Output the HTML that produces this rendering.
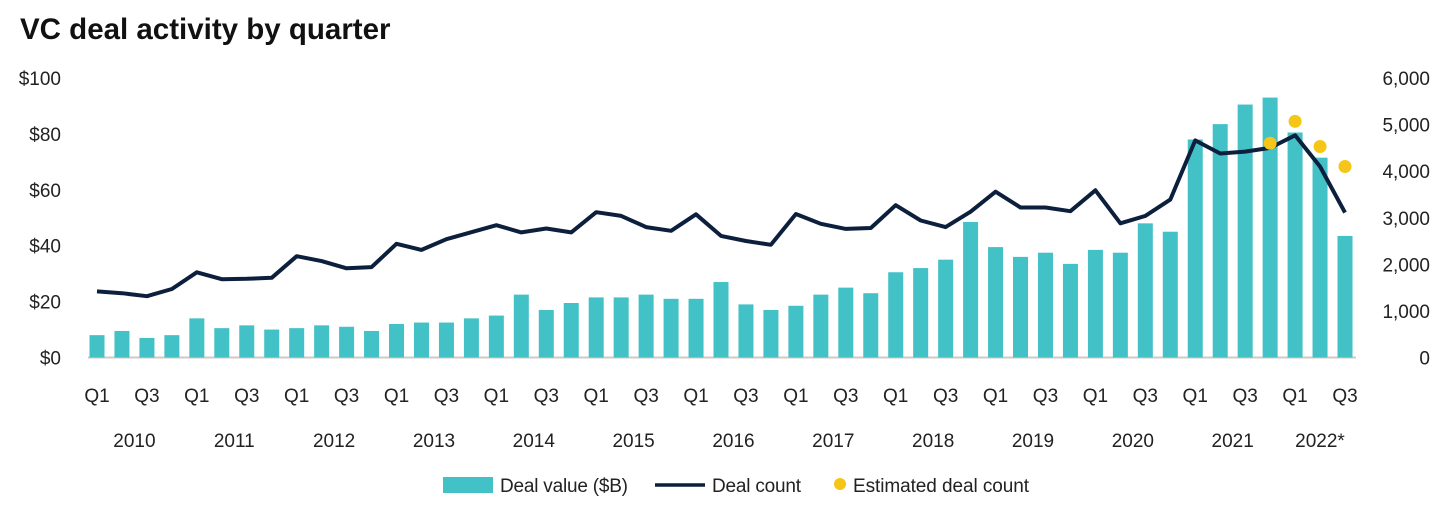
<!DOCTYPE html>
<html><head><meta charset="utf-8"><style>
body{margin:0;background:#fff;width:1452px;height:506px;overflow:hidden}
svg{display:block;font-family:"Liberation Sans",sans-serif}
</style></head><body>
<svg id="chart" width="1452" height="506">
<text x="20" y="39" font-family="Liberation Sans, sans-serif" font-weight="bold" font-size="29.5" fill="#111">VC deal activity by quarter</text>
<g id="axes"></g><g id="bars"></g><g id="lines"></g><g id="dots"></g>
<g>
<rect x="443" y="477" width="50" height="16" fill="#42c1c7"/>
<text x="500" y="492" font-size="19" fill="#222" textLength="128">Deal value ($B)</text>
<line x1="655" y1="485" x2="705" y2="485" stroke="#0c1f3d" stroke-width="3.5"/>
<text x="712" y="492" font-size="19" fill="#222" textLength="89">Deal count</text>
<circle cx="840" cy="484" r="6" fill="#f5c518"/>
<text x="853" y="492" font-size="19" fill="#222" textLength="176">Estimated deal count</text>
</g>
</svg>
<script>
const years = ["2010","2011","2012","2013","2014","2015","2016","2017","2018","2019","2020","2021","2022*"];
const dealValue = [8,9.5,7,8, 14,10.5,11.5,10, 10.5,11.5,11,9.5, 12,12.5,12.5,14, 15,22.5,17,19.5, 21.5,21.5,22.5,21, 21,27,19,17, 18.5,22.5,25,23, 30.5,32,35,48.5, 39.5,36,37.5,33.5, 38.5,37.5,48,45, 78,83.5,90.5,93, 80.5,71.5,43.5];
const dealCount = [1420,1380,1315,1470, 1830,1680,1690,1710, 2175,2070,1915,1940, 2440,2310,2540,2690, 2840,2685,2770,2685, 3120,3040,2800,2720, 3075,2610,2500,2420, 3080,2870,2760,2780, 3270,2940,2800,3130, 3560,3220,3220,3140, 3590,2880,3040,3390, 4660,4380,4420,4500, 4770,4100,3110];
const estIndex = [47,48,49,50];
const estCount = [4600,5070,4530,4100];
const leftTicks = ["$0","$20","$40","$60","$80","$100"];
const rightTicks = ["0","1,000","2,000","3,000","4,000","5,000","6,000"];
const NS="http://www.w3.org/2000/svg";
const x0=97, step=24.96, y0=357.5, yTop=78;
const xs=i=>x0+i*step;
const yL=v=>y0-(v/100)*(y0-yTop);
const yR=v=>y0-(v/6000)*(y0-yTop);
function mk(tag,attrs,parent,text){const e=document.createElementNS(NS,tag);for(const k in attrs)e.setAttribute(k,attrs[k]);if(text!==undefined)e.textContent=text;document.getElementById(parent).appendChild(e);return e;}
leftTicks.forEach((t,i)=>{const e=mk('text',{x:61,y:yL(i*20)+7,'text-anchor':'end','font-size':19,fill:'#222'},'axes',t);

});
rightTicks.forEach((t,i)=>{const e=mk('text',{x:1430,y:yR(i*1000)+7,'text-anchor':'end','font-size':19,fill:'#222'},'axes',t);

});
const base=mk('line',{x1:88,y1:y0,x2:1356,y2:y0,stroke:'#cfcac4','stroke-width':2},'axes');


dealValue.forEach((v,i)=>{const b=mk('rect',{x:xs(i)-7.5,y:yL(v),width:15,height:y0-yL(v),fill:'#42c1c7'},'bars');


if(i%2===0){const q=mk('text',{x:xs(i),y:402,'text-anchor':'middle','font-size':19,fill:'#222'},'axes',(i%4===0)?'Q1':'Q3');

}});
years.forEach((y,j)=>{const cx=(j===12)?1320:xs(j*4)+1.5*step;const t=mk('text',{x:cx,y:447,'text-anchor':'middle','font-size':19,fill:'#222'},'axes',y);

});
const pts=dealCount.map((v,i)=>xs(i).toFixed(1)+','+yR(v).toFixed(1)).join(' ');
const pl=mk('polyline',{points:pts,fill:'none',stroke:'#0c1f3d','stroke-width':4,'stroke-linejoin':'round'},'lines');


estCount.forEach((v,k)=>{const c=mk('circle',{cx:xs(estIndex[k]),cy:yR(v),r:6.5,fill:'#f5c518'},'dots');

});
</script>
</body></html>
